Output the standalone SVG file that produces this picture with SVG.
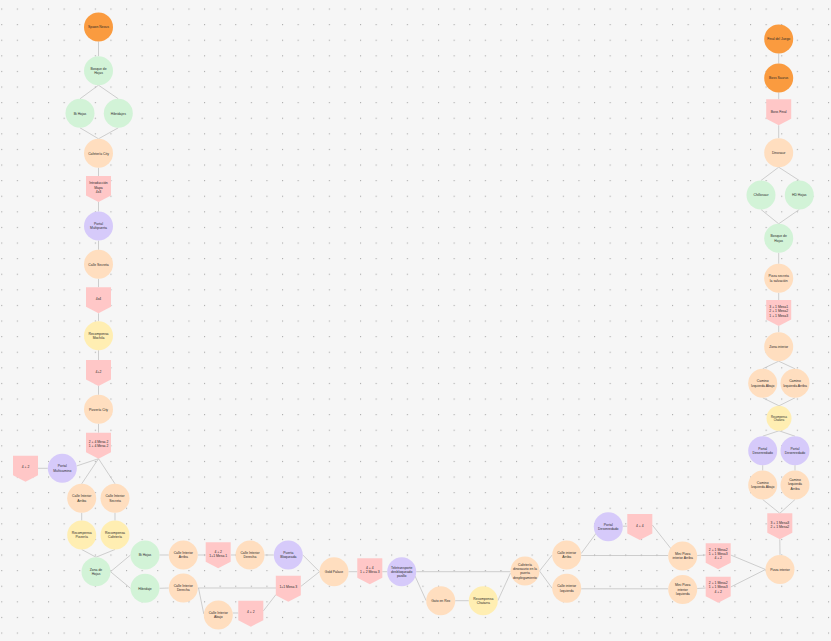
<svg xmlns="http://www.w3.org/2000/svg" xmlns:xlink="http://www.w3.org/1999/xlink" width="831" height="641" viewBox="0 0 831 641">
<style>
.o{fill:#FA9B3F}
.g{fill:#D2F3D7}
.p{fill:#FFDEBF}
.y{fill:#FFEEB2}
.v{fill:#D6CAFA}
.k{fill:#FFC7C7}
.t{font-family:"Liberation Sans",Arial,sans-serif;font-size:3.4px;fill:#2a2a2a;text-anchor:middle}
.ts{font-size:2.7px}
#links line{stroke:#bcbcbc;stroke-width:0.7;fill:none}
</style>
<defs>
<pattern id="dots" patternUnits="userSpaceOnUse" x="1.2" y="8.5" width="15.6" height="15.6">
<rect x="0" y="0" width="1.1" height="1.1" fill="#a9a9a9"/>
</pattern>
<path id="pent" d="M-12.5,0H12.5V19.5L0,26L-12.5,19.5Z"/>
</defs>
<rect width="831" height="641" fill="#f6f6f6"/>
<rect width="831" height="641" fill="url(#dots)"/>

<g id="links">
<line x1="98.5" y1="41.5" x2="98.5" y2="56.2"/>
<line x1="98.5" y1="85.2" x2="80" y2="98.8"/>
<line x1="98.5" y1="85.2" x2="118.3" y2="98.8"/>
<line x1="80" y1="127.8" x2="98.5" y2="138.8"/>
<line x1="118.3" y1="127.8" x2="98.5" y2="138.8"/>
<line x1="98.5" y1="167.8" x2="98.5" y2="176"/>
<line x1="98.5" y1="202" x2="98.5" y2="211.5"/>
<line x1="98.5" y1="240.5" x2="98.5" y2="249.8"/>
<line x1="98.5" y1="278.8" x2="98.5" y2="287.3"/>
<line x1="98.5" y1="313.3" x2="98.5" y2="321.2"/>
<line x1="98.5" y1="350.2" x2="98.5" y2="360"/>
<line x1="98.5" y1="386" x2="98.5" y2="394.8"/>
<line x1="98.5" y1="423.8" x2="98.5" y2="432.7"/>
<line x1="98.5" y1="458.7" x2="76.5" y2="466"/>
<line x1="98.5" y1="458.7" x2="81.7" y2="483.8"/>
<line x1="98.5" y1="458.7" x2="115" y2="483.8"/>
<line x1="38" y1="468.3" x2="47.8" y2="468.3"/>
<line x1="81.7" y1="512.8" x2="81.7" y2="520.5"/>
<line x1="115" y1="512.8" x2="115" y2="520.5"/>
<line x1="81.7" y1="549.5" x2="96" y2="557.2"/>
<line x1="115" y1="549.5" x2="96" y2="557.2"/>
<line x1="110.5" y1="571.7" x2="130.5" y2="555"/>
<line x1="110.5" y1="571.7" x2="130.5" y2="588.3"/>
<line x1="159.5" y1="555" x2="168.8" y2="555"/>
<line x1="159.5" y1="588.3" x2="168.8" y2="588"/>
<line x1="197.8" y1="555" x2="205.7" y2="555"/>
<line x1="230.7" y1="555" x2="235.5" y2="555"/>
<line x1="264.5" y1="555" x2="273.8" y2="555"/>
<line x1="302.8" y1="555" x2="319.5" y2="571.7"/>
<line x1="197.8" y1="588" x2="276" y2="588"/>
<line x1="198.5" y1="588" x2="203.8" y2="614"/>
<line x1="232.8" y1="613" x2="238.3" y2="613"/>
<line x1="263.3" y1="611" x2="276" y2="594.5"/>
<line x1="300.7" y1="586.5" x2="319.5" y2="571.7"/>
<line x1="348.5" y1="571.7" x2="357.3" y2="571.7"/>
<line x1="382.3" y1="571.7" x2="387.2" y2="571.7"/>
<line x1="416.2" y1="571.7" x2="510.5" y2="571.7"/>
<line x1="415" y1="576" x2="426.2" y2="600.7"/>
<line x1="455.2" y1="600.7" x2="468.8" y2="600.7"/>
<line x1="497.8" y1="600.7" x2="510.5" y2="573"/>
<line x1="539.5" y1="571" x2="552.2" y2="555"/>
<line x1="539.5" y1="571" x2="552.2" y2="588.3"/>
<line x1="581.2" y1="553.5" x2="600" y2="528"/>
<line x1="581.2" y1="555.5" x2="668.2" y2="555.5"/>
<line x1="622.8" y1="526.2" x2="627.3" y2="526.2"/>
<line x1="652.3" y1="525" x2="672" y2="550"/>
<line x1="581.2" y1="588.8" x2="668.2" y2="588.8"/>
<line x1="697.2" y1="555.5" x2="705.7" y2="555"/>
<line x1="697.2" y1="588.5" x2="705.7" y2="588"/>
<line x1="730.7" y1="555" x2="765.5" y2="569.5"/>
<line x1="730.7" y1="587" x2="765.5" y2="569.5"/>
<line x1="779.8" y1="539.3" x2="780" y2="554.8"/>
<line x1="762.7" y1="499.5" x2="779.8" y2="513.3"/>
<line x1="795" y1="499.5" x2="779.8" y2="513.3"/>
<line x1="778.7" y1="53.5" x2="778.7" y2="63.5"/>
<line x1="778.7" y1="92.5" x2="778.7" y2="99.3"/>
<line x1="778.7" y1="125.3" x2="778.7" y2="138.2"/>
<line x1="778.7" y1="167.2" x2="761" y2="180.5"/>
<line x1="778.7" y1="167.2" x2="799.3" y2="180.5"/>
<line x1="761" y1="209.5" x2="778.7" y2="223.8"/>
<line x1="799.3" y1="209.5" x2="778.7" y2="223.8"/>
<line x1="778.7" y1="252.8" x2="778.7" y2="263.8"/>
<line x1="778.7" y1="292.8" x2="778.7" y2="300"/>
<line x1="778.7" y1="326" x2="778.7" y2="332.2"/>
<line x1="778.7" y1="361.2" x2="762.7" y2="368.8"/>
<line x1="778.7" y1="361.2" x2="795" y2="368.8"/>
<line x1="762.7" y1="397.8" x2="779" y2="405.8"/>
<line x1="795" y1="397.8" x2="779" y2="405.8"/>
<line x1="779" y1="430.8" x2="762.7" y2="436.2"/>
<line x1="779" y1="430.8" x2="795" y2="436.2"/>
<line x1="762.7" y1="465.2" x2="762.7" y2="470.5"/>
<line x1="795" y1="465.2" x2="795" y2="470.5"/>
</g>

<g id="n1"><circle class="o" cx="98.5" cy="27" r="14.5"/><text class="t" x="98.5" y="28.2">Spawn Nexus</text></g>
<g id="n2"><circle class="g" cx="98.5" cy="70.7" r="14.5"/><text class="t" x="98.5" y="69.75">Bosque de</text><text class="t" x="98.5" y="74.05">Hojas</text></g>
<g id="n3"><circle class="g" cx="80" cy="113.3" r="14.5"/><text class="t" x="80" y="114.5">Bi Hojas</text></g>
<g id="n4"><circle class="g" cx="118.3" cy="113.3" r="14.5"/><text class="t" x="118.3" y="114.5">Hibridajes</text></g>
<g id="n5"><circle class="p" cx="98.5" cy="153.3" r="14.5"/><text class="t" x="98.5" y="154.5">Cafetería City</text></g>
<g id="n6"><use href="#pent" class="k" x="98.5" y="176"/><text class="t" x="98.5" y="184.2">Introducción</text><text class="t" x="98.5" y="188.5">Mapa</text><text class="t" x="98.5" y="192.8">4x3</text></g>
<g id="n7"><circle class="v" cx="98.5" cy="226" r="14.5"/><text class="t" x="98.5" y="225.05">Portal</text><text class="t" x="98.5" y="229.35">Multipuerta</text></g>
<g id="n8"><circle class="p" cx="98.5" cy="264.3" r="14.5"/><text class="t" x="98.5" y="265.5">Calle Secreta</text></g>
<g id="n9"><use href="#pent" class="k" x="98.5" y="287.3"/><text class="t" x="98.5" y="299.8">4x4</text></g>
<g id="n10"><circle class="y" cx="98.5" cy="335.7" r="14.5"/><text class="t" x="98.5" y="334.75">Recompensa</text><text class="t" x="98.5" y="339.05">Mochila</text></g>
<g id="n11"><use href="#pent" class="k" x="98.5" y="360"/><text class="t" x="98.5" y="372.5">4+2</text></g>
<g id="n12"><circle class="p" cx="98.5" cy="409.3" r="14.5"/><text class="t" x="98.5" y="410.5">Pizzería City</text></g>
<g id="n13"><use href="#pent" class="k" x="98.5" y="432.7"/><text class="t" x="98.5" y="443.05">2 + 4 Mesa 2</text><text class="t" x="98.5" y="447.35">1 + 4 Mesa 2</text></g>
<g id="n14"><circle class="v" cx="62.3" cy="468.3" r="14.5"/><text class="t" x="62.3" y="467.35">Portal</text><text class="t" x="62.3" y="471.65">Multicamino</text></g>
<g id="n15"><use href="#pent" class="k" x="25.5" y="455.7"/><text class="t" x="25.5" y="468.2">4 + 2</text></g>
<g id="n16"><circle class="p" cx="81.7" cy="498.3" r="14.5"/><text class="t" x="81.7" y="497.35">Calle Interior</text><text class="t" x="81.7" y="501.65">Arriba</text></g>
<g id="n17"><circle class="p" cx="115" cy="498.3" r="14.5"/><text class="t" x="115" y="497.35">Calle Interior</text><text class="t" x="115" y="501.65">Secreta</text></g>
<g id="n18"><circle class="y" cx="81.7" cy="535" r="14.5"/><text class="t" x="81.7" y="534.05">Recompensa</text><text class="t" x="81.7" y="538.35">Pizzería</text></g>
<g id="n19"><circle class="y" cx="115" cy="535" r="14.5"/><text class="t" x="115" y="534.05">Recompensa</text><text class="t" x="115" y="538.35">Cafetería</text></g>
<g id="n20"><circle class="g" cx="96" cy="571.7" r="14.5"/><text class="t" x="96" y="570.75">Zona de</text><text class="t" x="96" y="575.05">Hojas</text></g>
<g id="n21"><circle class="g" cx="145" cy="555" r="14.5"/><text class="t" x="145" y="556.2">Bi Hojas</text></g>
<g id="n22"><circle class="g" cx="145" cy="588.3" r="14.5"/><text class="t" x="145" y="589.5">Hibridaje</text></g>
<g id="n23"><circle class="p" cx="183.3" cy="555" r="14.5"/><text class="t" x="183.3" y="554.05">Calle Interior</text><text class="t" x="183.3" y="558.35">Arriba</text></g>
<g id="n24"><circle class="p" cx="183.3" cy="588" r="14.5"/><text class="t" x="183.3" y="587.05">Calle Interior</text><text class="t" x="183.3" y="591.35">Derecha</text></g>
<g id="n25"><use href="#pent" class="k" x="218.2" y="542.3"/><text class="t" x="218.2" y="552.65">4 + 2</text><text class="t" x="218.2" y="556.95">1+1 Mesa 1</text></g>
<g id="n26"><circle class="p" cx="250" cy="555" r="14.5"/><text class="t" x="250" y="554.05">Calle Interior</text><text class="t" x="250" y="558.35">Derecha</text></g>
<g id="n27"><circle class="v" cx="288.3" cy="555" r="14.5"/><text class="t" x="288.3" y="554.05">Puerta</text><text class="t" x="288.3" y="558.35">Bloqueada</text></g>
<g id="n28"><circle class="p" cx="334" cy="571.7" r="14.5"/><text class="t" x="334" y="572.9">Gold Palace</text></g>
<g id="n29"><use href="#pent" class="k" x="288.3" y="575.7"/><text class="t" x="288.3" y="588.2">1+1 Mesa 3</text></g>
<g id="n30"><circle class="p" cx="218.3" cy="615" r="14.5"/><text class="t" x="218.3" y="614.05">Calle Interior</text><text class="t" x="218.3" y="618.35">Abajo</text></g>
<g id="n31"><use href="#pent" class="k" x="250.8" y="600.7"/><text class="t" x="250.8" y="613.2">4 + 2</text></g>
<g id="n32"><use href="#pent" class="k" x="369.8" y="558.3"/><text class="t" x="369.8" y="568.65">4 + 4</text><text class="t" x="369.8" y="572.95">1 + 2 Mesa 3</text></g>
<g id="n33"><circle class="v" cx="401.7" cy="571.7" r="14.5"/><text class="t" x="401.7" y="568.6">Teletransporte</text><text class="t" x="401.7" y="572.9">desbloqueado</text><text class="t" x="401.7" y="577.2">pasillo</text></g>
<g id="n34"><circle class="p" cx="440.7" cy="600.7" r="14.5"/><text class="t" x="440.7" y="601.9">Gato en Rex</text></g>
<g id="n35"><circle class="y" cx="483.3" cy="600.7" r="14.5"/><text class="t" x="483.3" y="599.75">Recompensa</text><text class="t" x="483.3" y="604.05">Chatarra</text></g>
<g id="n36"><circle class="p" cx="525" cy="571" r="14.5"/><text class="t" x="525" y="565.75">Cafetería</text><text class="t" x="525" y="570.05">dinosaurio en la</text><text class="t" x="525" y="574.35">puerta</text><text class="t" x="525" y="578.65">desplegamiento</text></g>
<g id="n37"><circle class="p" cx="566.7" cy="555" r="14.5"/><text class="t" x="566.7" y="554.05">Calle interior</text><text class="t" x="566.7" y="558.35">Arriba</text></g>
<g id="n38"><circle class="p" cx="566.7" cy="588.3" r="14.5"/><text class="t" x="566.7" y="587.35">Calle interior</text><text class="t" x="566.7" y="591.65">Izquierda</text></g>
<g id="n39"><circle class="v" cx="608.3" cy="526.7" r="14.5"/><text class="t" x="608.3" y="525.75">Portal</text><text class="t" x="608.3" y="530.05">Desenredado</text></g>
<g id="n40"><use href="#pent" class="k" x="639.8" y="514"/><text class="t" x="639.8" y="526.5">4 + 4</text></g>
<g id="n41"><circle class="p" cx="682.7" cy="556" r="14.5"/><text class="t" x="682.7" y="555.05">Mini Pizza</text><text class="t" x="682.7" y="559.35">interior Arriba</text></g>
<g id="n42"><circle class="p" cx="682.7" cy="589.5" r="14.5"/><text class="t" x="682.7" y="586.4">Mini Pizza</text><text class="t" x="682.7" y="590.7">interior</text><text class="t" x="682.7" y="595">Izquierda</text></g>
<g id="n43"><use href="#pent" class="k" x="718.2" y="543.3"/><text class="t" x="718.2" y="550.7">2 + 1 Mesa2</text><text class="t" x="718.2" y="555">1 + 1 Mesa3</text><text class="t" x="718.2" y="559.3">4 + 2</text></g>
<g id="n44"><use href="#pent" class="k" x="718.2" y="576.7"/><text class="t" x="718.2" y="584">2 + 1 Mesa2</text><text class="t" x="718.2" y="588.3">1 + 1 Mesa3</text><text class="t" x="718.2" y="592.6">4 + 2</text></g>
<g id="n45"><circle class="p" cx="780" cy="569.5" r="14.5"/><text class="t" x="780" y="570.7">Pizza interior</text></g>
<g id="n46"><use href="#pent" class="k" x="779.8" y="513.3"/><text class="t" x="779.8" y="523.65">3 + 1 Mesa3</text><text class="t" x="779.8" y="527.95">2 + 1 Mesa2</text></g>

<g id="r1"><circle class="o" cx="778.7" cy="39" r="14.5"/><text class="t" x="778.7" y="40.2">Final del Juego</text></g>
<g id="r2"><circle class="o" cx="778.7" cy="78" r="14.5"/><text class="t" x="778.7" y="79.2">Boss Saurus</text></g>
<g id="r3"><use href="#pent" class="k" x="778.7" y="99.3"/><text class="t" x="778.7" y="113">Boss Final</text></g>
<g id="r4"><circle class="p" cx="778.7" cy="152.7" r="14.5"/><text class="t" x="778.7" y="153.9">Dinosaur</text></g>
<g id="r5"><circle class="g" cx="761" cy="195" r="14.5"/><text class="t" x="761" y="196.2">Chillosaur</text></g>
<g id="r6"><circle class="g" cx="799.3" cy="195" r="14.5"/><text class="t" x="799.3" y="196.2">HD Hojas</text></g>
<g id="r7"><circle class="g" cx="778.7" cy="238.3" r="14.5"/><text class="t" x="778.7" y="237.35">Bosque de</text><text class="t" x="778.7" y="241.65">Hojas</text></g>
<g id="r8"><circle class="p" cx="778.7" cy="278.3" r="14.5"/><text class="t" x="778.7" y="277.35">Pizza secreta</text><text class="t" x="778.7" y="281.65">la salvación</text></g>
<g id="r9"><use href="#pent" class="k" x="778.7" y="300"/><text class="t" x="778.7" y="307.9">3 + 1 Mesa1</text><text class="t" x="778.7" y="312.2">2 + 1 Mesa2</text><text class="t" x="778.7" y="316.5">1 + 1 Mesa3</text></g>
<g id="r10"><circle class="p" cx="778.7" cy="346.7" r="14.5"/><text class="t" x="778.7" y="347.9">Zona interior</text></g>
<g id="r11"><circle class="p" cx="762.7" cy="383.3" r="14.5"/><text class="t" x="762.7" y="382.35">Camino</text><text class="t" x="762.7" y="386.65">Izquierda Abajo</text></g>
<g id="r12"><circle class="p" cx="795" cy="383.3" r="14.5"/><text class="t" x="795" y="382.35">Camino</text><text class="t" x="795" y="386.65">Izquierda Arriba</text></g>
<g id="r13"><circle class="y" cx="779" cy="418.3" r="12.5"/><text class="t ts" x="779" y="417.5">Recompensa</text><text class="t ts" x="779" y="421">Chatarra</text></g>
<g id="r14"><circle class="v" cx="762.7" cy="450.7" r="14.5"/><text class="t" x="762.7" y="449.75">Portal</text><text class="t" x="762.7" y="454.05">Desenredado</text></g>
<g id="r15"><circle class="v" cx="795" cy="450.7" r="14.5"/><text class="t" x="795" y="449.75">Portal</text><text class="t" x="795" y="454.05">Desenredado</text></g>
<g id="r16"><circle class="p" cx="762.7" cy="485" r="14.5"/><text class="t" x="762.7" y="484.05">Camino</text><text class="t" x="762.7" y="488.35">Izquierda Abajo</text></g>
<g id="r17"><circle class="p" cx="795" cy="485" r="14.5"/><text class="t" x="795" y="480.9">Camino</text><text class="t" x="795" y="485.2">Izquierda</text><text class="t" x="795" y="489.5">Arriba</text></g>
</svg>
